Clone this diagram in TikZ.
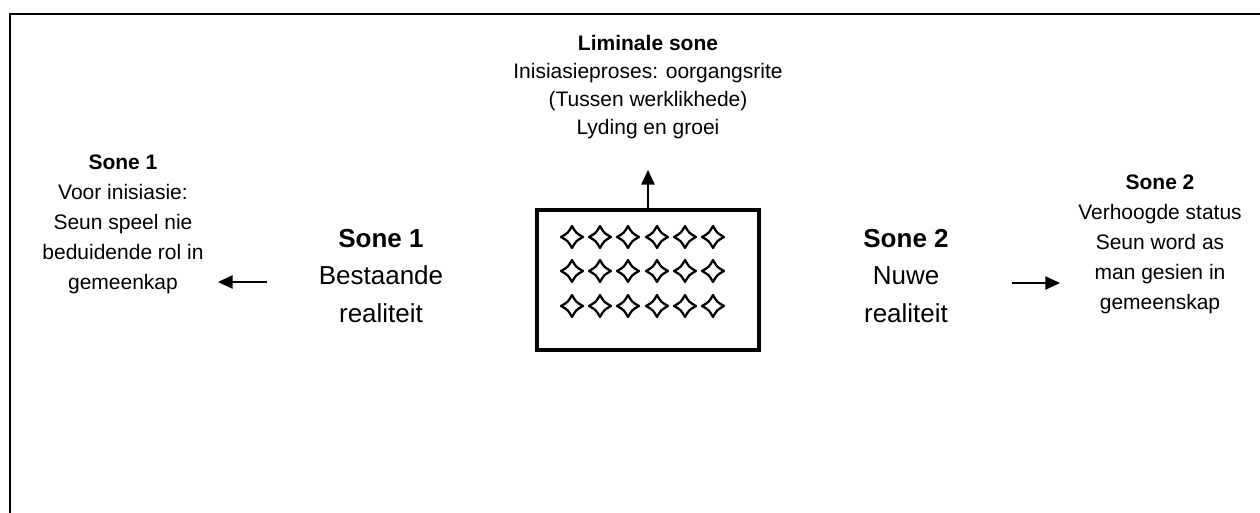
\documentclass[tikz,border=0pt]{standalone}
\usepackage{fontspec}
\setmainfont{Liberation Sans}
\usetikzlibrary{arrows.meta,positioning}

\begin{document}
\begin{tikzpicture}[x=0.75pt,y=-0.75pt,
	klein/.style={align=center,font=\fontsize{15.75pt}{22.5pt}\selectfont},
	groot/.style={align=center,font=\fontsize{19.5pt}{28pt}\selectfont},
	pyl/.style={-{Triangle[length=11pt,width=10pt]},line width=1.1pt},
	ster/.style={line width=1.7pt,line join=round,line cap=round}]
	\useasboundingbox (0,0) rectangle (1260,513);
	
	% Kader
	\draw[line width=1.5pt] (1260,14) -| (10,513);
	
	% Liminale sone
	\node[draw,line width=3pt,minimum width=167pt,minimum height=105pt,inner sep=0pt] (box) at (648,280) {};
	\foreach \y in {237,271,306}{
		\foreach \sx in {572,600,628,657,685,713}{
			\draw[ster] (\sx+11,\y) .. controls (\sx+4,\y-4) .. (\sx,\y-11)
				.. controls (\sx-4,\y-4) .. (\sx-11,\y)
				.. controls (\sx-4,\y+4) .. (\sx,\y+11)
				.. controls (\sx+4,\y+4) .. (\sx+11,\y) -- cycle;
		}
	}
	\node[klein,font=\fontsize{15.75pt}{21pt}\selectfont] (lim) at (648,87) {\textbf{Liminale sone}\\Inisiasieproses: oorgangsrite\\(Tussen werklikhede)\\Lyding en groei};
	\draw[pyl] (box.north) -- ++(0,-38) coordinate (limpunt);
	
	% Sone 1
	\node[groot] (sone1) at (381,276) {\textbf{Sone 1}\\Bestaande\\realiteit};
	\node[klein] (info1) at (123,224) {\textbf{Sone 1}\\Voor inisiasie:\\Seun speel nie\\beduidende rol in\\gemeenkap};
	\coordinate (pyl1a) at (267,282);
	\coordinate (pyl1b) at (218,282);
	\draw[pyl] (pyl1a) -- (pyl1b);
	
	% Sone 2
	\node[groot] (sone2) at (906,276) {\textbf{Sone 2}\\Nuwe\\realiteit};
	\node[klein] (info2) at (1160,244) {\textbf{Sone 2}\\Verhoogde status\\Seun word as\\man gesien in\\gemeenskap};
	\coordinate (pyl2a) at (1012,283);
	\coordinate (pyl2b) at (1060,283);
	\draw[pyl] (pyl2a) -- (pyl2b);
\end{tikzpicture}
\end{document}
